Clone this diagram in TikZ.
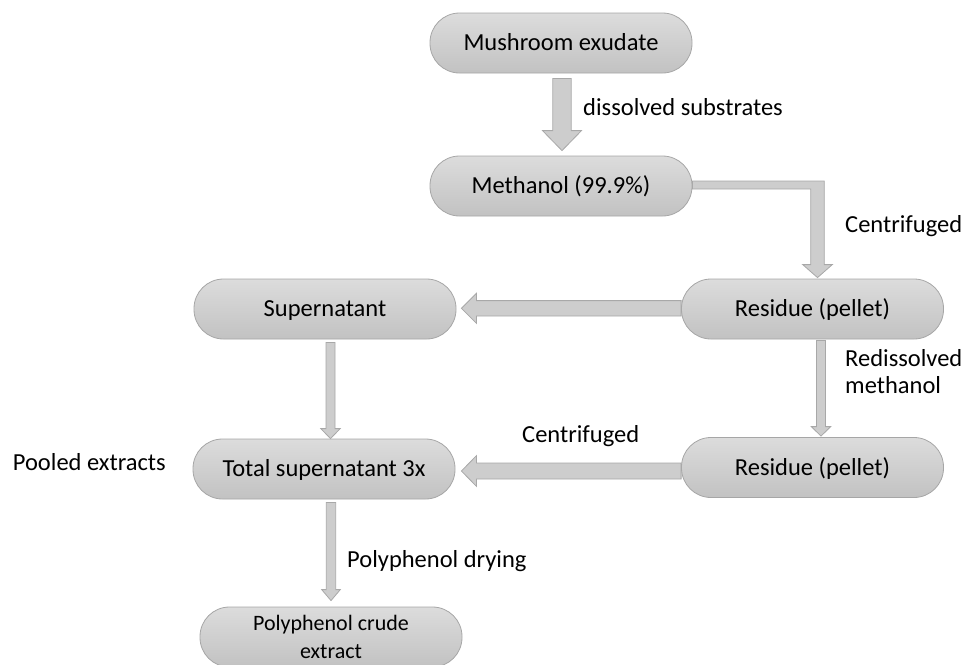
\documentclass[tikz,border=0pt]{standalone}
\usepackage{fontspec}
\setmainfont{Carlito}
\usetikzlibrary{calc}
\definecolor{boxedge}{HTML}{A6A6A6}
\definecolor{boxtop}{HTML}{DCDCDC}
\definecolor{boxbot}{HTML}{C2C2C2}
\definecolor{arrfill}{HTML}{CDCDCD}
\definecolor{arredge}{HTML}{A8A8A8}
\tikzset{
  procbox/.style={rectangle, rounded corners=29.5pt, minimum width=262pt, minimum height=60pt,
    draw=boxedge, line width=0.8pt, top color=boxtop, bottom color=boxbot, inner sep=0pt,
    font=\fontsize{24.5}{29}\selectfont, text=black, text height=15.8pt, text depth=0pt},
  smallbox/.style={procbox, text height=, text depth=, font=\fontsize{22}{28}\selectfont, align=center},
  lbl/.style={anchor=base west, inner sep=0pt, font=\fontsize{24.5}{27}\selectfont, text=black},
  blockarr/.style={fill=arrfill, draw=arredge, line width=0.8pt, line join=miter}
}
% #1 start, #2 tip, #3 half shaft, #4 half head, #5 head length
\newcommand{\arrdn}[5]{%
  \path[blockarr] let \p1=#1, \p2=#2 in
   (\x2-#3pt,\y1) -- (\x2+#3pt,\y1) -- (\x2+#3pt,\y2+#5pt) -- (\x2+#4pt,\y2+#5pt) -- (\x2,\y2)
   -- (\x2-#4pt,\y2+#5pt) -- (\x2-#3pt,\y2+#5pt) -- cycle;}
\newcommand{\arrlf}[5]{%
  \path[blockarr] let \p1=#1, \p2=#2 in
   (\x1,\y2+#3pt) -- (\x2+#5pt,\y2+#3pt) -- (\x2+#5pt,\y2+#4pt) -- (\x2,\y2)
   -- (\x2+#5pt,\y2-#4pt) -- (\x2+#5pt,\y2-#3pt) -- (\x1,\y2-#3pt) -- cycle;}
\begin{document}
\begin{tikzpicture}[x=1pt,y=-1pt]
\useasboundingbox (0,0) rectangle (966,664);
% nodes
\node[procbox] (m) at (561,43) {Mushroom exudate};
\node[procbox] (meth) at (561,186) {Methanol (99.9\%)};
\node[procbox] (res1) at (812.5,309) {Residue (pellet)};
\node[procbox] (sup) at (325,309) {Supernatant};
\node[procbox] (res2) at (812.5,467.5) {Residue (pellet)};
\node[procbox] (tot) at (324,469) {Total supernatant 3x};
\node[smallbox] (crude) at (331,637) {Polyphenol crude\\extract};
% connectors
\arrdn{($(m.south)+(1,5)$)}{($(meth.north)+(1,-5)$)}{9.2}{19.5}{20}
\path[blockarr] let \p1=(meth.east), \p2=($(res1.north)+(5,-1)$) in
  (\x1,\y1+5pt) -- (\x2+6.8pt,\y1+5pt) -- (\x2+6.8pt,\y2+13pt) -- (\x2+14.8pt,\y2+13pt) -- (\x2,\y2)
  -- (\x2-14.8pt,\y2+13pt) -- (\x2-6.8pt,\y2+13pt) -- (\x2-6.8pt,\y1-3pt) -- (\x1,\y1-3pt) -- cycle;
\arrlf{(res1.west)}{($(sup.east)+(5,-0.7)$)}{7.7}{15}{15}
\arrdn{($(sup.south)+(5.5,3)$)}{($(tot.north)+(6.5,0)$)}{4.5}{9.7}{10}
\arrdn{($(res1.south)+(8.5,1)$)}{($(res2.north)+(8.5,-1)$)}{4.5}{9.7}{9.5}
\arrlf{(res2.west)}{($(tot.east)+(6,2)$)}{8}{15.3}{15}
\arrdn{($(tot.south)+(7,3)$)}{($(crude.north)+(0,-6)$)}{4.7}{9.3}{11}
% labels
\node[lbl] (l1) at (583,115) {dissolved substrates};
\node[lbl] (l2) at (845,232) {Centrifuged};
\node[lbl, align=left] (l3) at (845,393) {Redissolved\\methanol};
\node[lbl] (l4) at (522,442) {Centrifuged};
\node[lbl] (l5) at (347,567) {Polyphenol drying};
\node[lbl] (l6) at (12.7,470) {Pooled extracts};
\end{tikzpicture}
\end{document}
